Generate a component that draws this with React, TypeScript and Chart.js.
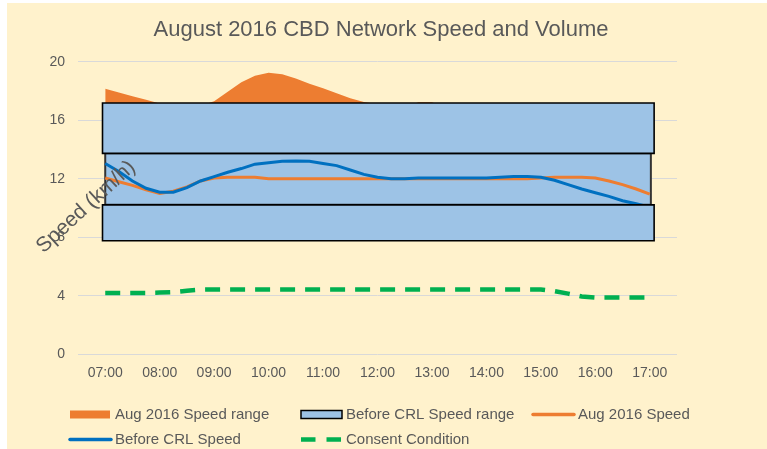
import React, { useEffect, useRef } from 'react';
import { Chart, registerables } from 'chart.js';

Chart.register(...registerables);

// ---------- data ----------
const times = [
  7.0, 7.25, 7.5, 7.75, 8.0, 8.25, 8.5, 8.75, 9.0, 9.25, 9.5, 9.75, 10.0, 10.25, 10.5, 10.75,
  11.0, 11.25, 11.5, 11.75, 12.0, 12.25, 12.5, 12.75, 13.0, 13.25, 13.5, 13.75, 14.0, 14.25,
  14.5, 14.75, 15.0, 15.25, 15.5, 15.75, 16.0, 16.25, 16.5, 16.75, 17.0,
];
const tickHours = [7, 8, 9, 10, 11, 12, 13, 14, 15, 16, 17];
const tickLabels = ['07:00', '08:00', '09:00', '10:00', '11:00', '12:00', '13:00', '14:00', '15:00', '16:00', '17:00'];

const augRangeHigh = [
  18.15, 17.9, 17.65, 17.4, 17.15, 16.95, 16.9, 17.0, 17.3, 17.95, 18.6, 19.05, 19.25, 19.15, 18.85, 18.5,
  18.2, 17.85, 17.5, 17.25, 17.1, 16.95, 16.9, 17.24, 17.24, 16.9, 16.8, 16.7, 16.6, 16.5,
  16.4, 16.3, 16.2, 16.0, 15.8, 15.6, 15.4, 15.2, 15.0, 14.9, 14.8,
];
const augRangeLow = [
  9.6, 9.5, 9.4, 9.3, 9.2, 9.3, 9.5, 9.7, 9.9, 10.0, 10.0, 10.0, 10.0, 10.0, 10.0, 10.0,
  10.0, 10.0, 10.0, 10.0, 10.0, 10.0, 10.0, 10.0, 10.0, 10.0, 10.0, 10.0, 10.0, 10.0,
  10.0, 10.0, 10.0, 9.9, 9.8, 9.7, 9.6, 9.5, 9.4, 9.3, 9.2,
];
const augSpeed = [
  12.05, 11.8, 11.55, 11.25, 11.0, 11.15, 11.45, 11.85, 12.05, 12.1, 12.1, 12.1, 12.0, 12.0, 12.0, 12.0,
  12.0, 12.0, 12.0, 12.0, 12.0, 12.0, 12.0, 12.0, 12.0, 12.0, 12.0, 12.0, 12.0, 12.0,
  12.0, 12.0, 12.05, 12.1, 12.1, 12.1, 12.05, 11.85, 11.6, 11.3, 10.95,
];
const crlSpeed = [
  13.05, 12.5, 11.85, 11.35, 11.08, 11.08, 11.4, 11.85, 12.15, 12.45, 12.7, 13.0, 13.1, 13.2, 13.22, 13.2,
  13.05, 12.9, 12.6, 12.3, 12.1, 12.0, 12.0, 12.05, 12.05, 12.05, 12.05, 12.05, 12.05, 12.1,
  12.15, 12.15, 12.1, 11.9, 11.6, 11.3, 11.05, 10.8, 10.5, 10.3, 10.05,
];
const consent = [
  4.2, 4.2, 4.2, 4.2, 4.22, 4.25, 4.35, 4.42, 4.43, 4.43, 4.43, 4.43, 4.43, 4.43, 4.43, 4.43,
  4.43, 4.43, 4.43, 4.43, 4.43, 4.43, 4.43, 4.43, 4.43, 4.43, 4.43, 4.43, 4.43, 4.43,
  4.43, 4.43, 4.43, 4.32, 4.15, 3.95, 3.88, 3.88, 3.88, 3.88, 3.88,
];
// "Before CRL Speed range" bands (upper / lower speed, start / end hour)
const crlBandTop = [17.18, 13.74, 10.22];
const crlBandBottom = [13.74, 10.22, 7.76];
const crlBandFrom = [6.95, 7.0, 6.95];
const crlBandTo = [17.08, 17.02, 17.08];

// ---------- styles ----------
const TEXT = '#595959';
const FONT = "'Liberation Sans', Arial, sans-serif";
const ORANGE = '#ED7D31';
const BLUE = '#0070C0';
const BOX = '#9DC3E6';
const GREEN = '#00B050';

const pts = (ys: number[]) => times.map((t, i) => ({ x: t, y: ys[i] }));
const band = (i: number) => [
  { x: crlBandFrom[i], y: crlBandBottom[i] },
  { x: crlBandFrom[i], y: crlBandTop[i] },
  { x: crlBandTo[i], y: crlBandTop[i] },
  { x: crlBandTo[i], y: crlBandBottom[i] },
  { x: crlBandFrom[i], y: crlBandBottom[i] },
];

type LegendKind = 'area' | 'box' | 'line' | 'dash';
const legendEntries: { label: string; kind: LegendKind; color: string }[] = [
  { label: 'Aug 2016 Speed range', kind: 'area', color: ORANGE },
  { label: 'Before CRL Speed range', kind: 'box', color: BOX },
  { label: 'Aug 2016 Speed', kind: 'line', color: ORANGE },
  { label: 'Before CRL Speed', kind: 'line', color: BLUE },
  { label: 'Consent Condition', kind: 'dash', color: GREEN },
];

const customDraw = {
  id: 'customDraw',
  afterDraw(chart: any) {
    const ctx: CanvasRenderingContext2D = chart.ctx;
    // rotated y-axis title
    ctx.save();
    ctx.translate(79, 204);
    ctx.rotate((-42.5 * Math.PI) / 180);
    ctx.font = `21px ${FONT}`;
    ctx.fillStyle = TEXT;
    ctx.textAlign = 'center';
    ctx.textBaseline = 'middle';
    ctx.fillText('Speed (km/h)', 0, 0);
    ctx.restore();

    // legend grid
    const colX = [63, 294, 526];
    const rowY = [411.5, 436.5];
    legendEntries.forEach((e, i) => {
      const x = colX[i % 3];
      const y = rowY[Math.floor(i / 3)];
      ctx.save();
      if (e.kind === 'area') {
        ctx.fillStyle = e.color;
        ctx.fillRect(x, y - 4, 40, 8);
      } else if (e.kind === 'box') {
        ctx.fillStyle = e.color;
        ctx.fillRect(x, y - 4, 41, 8);
        ctx.strokeStyle = '#000';
        ctx.lineWidth = 1.5;
        ctx.strokeRect(x, y - 4, 41, 8);
      } else if (e.kind === 'line') {
        ctx.strokeStyle = e.color;
        ctx.lineWidth = 3.5;
        ctx.lineCap = 'round';
        ctx.beginPath();
        ctx.moveTo(x, y);
        ctx.lineTo(x + 41, y);
        ctx.stroke();
      } else {
        ctx.strokeStyle = e.color;
        ctx.lineWidth = 4.5;
        ctx.setLineDash([14.5, 11]);
        ctx.beginPath();
        ctx.moveTo(x, y);
        ctx.lineTo(x + 41, y);
        ctx.stroke();
      }
      ctx.fillStyle = TEXT;
      ctx.font = `15px ${FONT}`;
      ctx.textAlign = 'left';
      ctx.textBaseline = 'middle';
      ctx.fillText(e.label, x + 45, y);
      ctx.restore();
    });
  },
};

export default function App() {
  const ref = useRef<HTMLCanvasElement | null>(null);

  useEffect(() => {
    if (!ref.current) return;
    const common = { pointRadius: 0, pointHoverRadius: 0, tension: 0 };
    const chart = new Chart(ref.current, {
      type: 'line',
      data: {
        datasets: [
          {
            label: 'Aug 2016 Speed range',
            data: pts(augRangeHigh),
            borderWidth: 0,
            borderColor: ORANGE,
            backgroundColor: ORANGE,
            fill: '+1',
            order: 10,
            ...common,
          },
          {
            label: 'Aug 2016 Speed range low',
            data: pts(augRangeLow),
            borderWidth: 0,
            borderColor: 'rgba(0,0,0,0)',
            backgroundColor: 'rgba(0,0,0,0)',
            fill: false,
            order: 10,
            ...common,
          },
          ...[0, 1, 2].map((i) => ({
            label: 'Before CRL Speed range',
            data: band(i),
            borderWidth: i === 1 ? 2 : 1.6,
            borderColor: i === 1 ? '#333333' : '#000000',
            backgroundColor: BOX,
            fill: 'shape',
            borderCapStyle: 'square',
            borderJoinStyle: 'miter',
            order: i === 1 ? 8 : 4,
            ...common,
          })),
          {
            label: 'Aug 2016 Speed',
            data: pts(augSpeed),
            borderColor: ORANGE,
            backgroundColor: ORANGE,
            borderWidth: 3,
            fill: false,
            order: 6,
            ...common,
          },
          {
            label: 'Before CRL Speed',
            data: pts(crlSpeed),
            borderColor: BLUE,
            backgroundColor: BLUE,
            borderWidth: 3,
            fill: false,
            order: 5,
            ...common,
          },
          {
            label: 'Consent Condition',
            data: pts(consent),
            borderColor: GREEN,
            backgroundColor: GREEN,
            borderWidth: 4.5,
            borderDash: [15, 10],
            fill: false,
            order: 2,
            ...common,
          },
        ] as any,
      },
      options: {
        responsive: false,
        animation: false,
        devicePixelRatio: 1,
        parsing: true,
        layout: { padding: { left: 0, right: 12, top: 0, bottom: 64.7 } },
        plugins: {
          legend: { display: false },
          tooltip: { enabled: false },
          title: {
            display: true,
            text: 'August 2016 CBD Network Speed and Volume',
            color: TEXT,
            font: { family: FONT, size: 22, weight: 'normal' },
            padding: { top: 13.8, bottom: 18.6 },
          },
        },
        scales: {
          x: {
            type: 'linear',
            min: 6.5,
            max: 17.5,
            grid: { display: false },
            border: { display: false },
            afterBuildTicks: (s: any) => {
              s.ticks = tickHours.map((v) => ({ value: v }));
            },
            afterFit: (s: any) => {
              s.height = 30;
            },
            ticks: {
              autoSkip: false,
              maxRotation: 0,
              padding: 2,
              color: TEXT,
              font: { family: FONT, size: 14 },
              callback: (v: any) => {
                const k = tickHours.indexOf(Number(v));
                return k >= 0 ? tickLabels[k] : '';
              },
            },
          },
          y: {
            type: 'linear',
            position: 'left',
            min: 0,
            max: 20,
            grid: { color: '#D9D9D9', lineWidth: 1, drawTicks: false },
            border: { display: false },
            afterFit: (s: any) => {
              s.width = 71;
            },
            ticks: {
              stepSize: 4,
              padding: 13,
              color: TEXT,
              font: { family: FONT, size: 14 },
            },
          },
          yRight: {
            type: 'linear',
            position: 'right',
            display: true,
            min: 0,
            max: 20,
            grid: { display: false, drawTicks: false },
            border: { display: false },
            ticks: { display: false },
            afterFit: (s: any) => {
              s.width = 78;
            },
          },
        },
      } as any,
      plugins: [customDraw],
    });
    return () => chart.destroy();
  }, []);

  return (
    <div
      style={{
        position: 'absolute',
        left: 7,
        top: 3,
        width: 760,
        height: 446,
        background: '#FFF2CC',
      }}
    >
      <canvas ref={ref} width={760} height={446} style={{ display: 'block', width: 760, height: 446 }} />
    </div>
  );
}
